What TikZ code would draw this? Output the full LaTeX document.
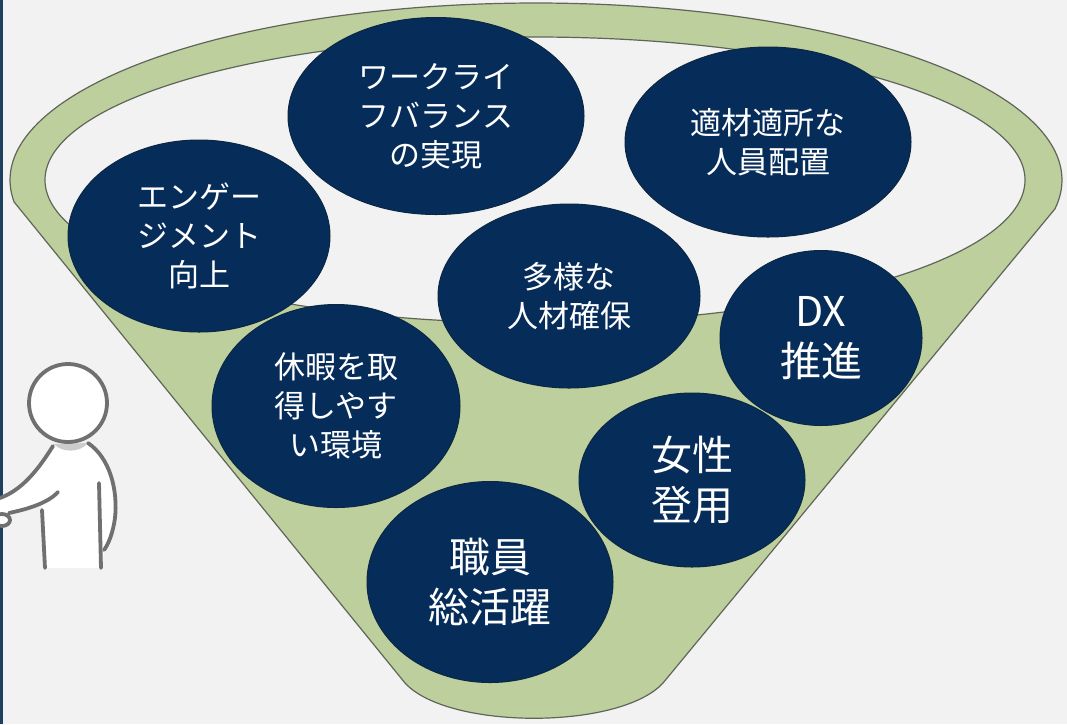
\documentclass[tikz,border=0pt]{standalone}
\usepackage{fontspec}
\newfontfamily\jpfont{Noto Sans CJK JP}
\usetikzlibrary{shapes.geometric}
\definecolor{bg}{HTML}{F2F2F2}
\definecolor{funnelgreen}{HTML}{BCCF9D}
\definecolor{funnelline}{HTML}{5F6659}
\definecolor{navy}{HTML}{062C5A}
\definecolor{navyline}{HTML}{0B2742}
\definecolor{personline}{HTML}{707070}
\definecolor{edgebar}{HTML}{1D4060}
\begin{document}
\begin{tikzpicture}[x=1pt,y=-1pt,
  funnel/.style={fill=funnelgreen, draw=funnelline, line width=1.2pt},
  bubble/.style={ellipse, fill=navy, draw=navyline, line width=1pt,
    inner sep=0pt, text=white, align=center},
  small/.style={font=\jpfont\fontsize{31}{39}\selectfont},
  big/.style={font=\jpfont\fontsize{41}{50}\selectfont},
  figline/.style={draw=personline, line width=3.8pt, line cap=round}]

% canvas
\useasboundingbox (0,0) rectangle (1067,724);
\fill[bg] (0,0) rectangle (1067,724);
\fill[edgebar] (0,0) rectangle (2.5,724);

% funnel body: rim arc over the top, straight sides, rounded spout
\draw[funnel] plot[domain=172.9:369.4, samples=160]
    ({536+526*cos(\x)},{180+177*sin(\x)})
  -- (663,683) .. controls (620,730) and (448,730) .. (405,683) -- cycle;
% opening of the funnel
\draw[fill=bg, draw=funnelline, line width=1.2pt]
  (535,180) ellipse [x radius=490pt, y radius=143pt];

% bubbles
\node[bubble, small, minimum width=262pt, minimum height=192pt] (engage) at (199,236) {エンゲー\\ジメント\\向上};
\node[bubble, small, minimum width=296pt, minimum height=197pt] (wlb) at (436,116) {ワークライ\\フバランス\\の実現};
\node[bubble, small, minimum width=286pt, minimum height=190pt] (place) at (768,142) {適材適所な\\人員配置};
\node[bubble, small, minimum width=262pt, minimum height=184pt] (diverse) at (569,296) {多様な\\人材確保};
\node[bubble, big, minimum width=202pt, minimum height=175pt] (dx) at (821,338) {DX\\推進};
\node[bubble, small, minimum width=248pt, minimum height=203pt] (leave) at (336,406) {休暇を取\\得しやす\\い環境};
\node[bubble, big, minimum width=226pt, minimum height=174pt] (women) at (692,480) {女性\\登用};
\node[bubble, big, minimum width=246pt, minimum height=201pt] (staff) at (490,582) {職員\\総活躍};

% person seen from behind, pointing left
\fill[white] (0,498) .. controls (22,490) and (38,470) .. (53,446)
  -- (88,443) .. controls (110,458) and (118,490) .. (115,518)
  .. controls (113,533) and (108,545) .. (104,552) -- (101,568)
  -- (45,568) -- (42,506) -- (10,513) -- (0,513) -- cycle;
\fill[gray!40] (54,444) .. controls (62,453) and (80,453) .. (88,443) -- cycle;
\draw[figline] (0,498) .. controls (22,490) and (38,470) .. (53,446);
\draw[figline] (88,443) .. controls (110,458) and (118,490) .. (115,518)
  .. controls (113,533) and (108,545) .. (104,550);
\draw[figline] (99,483) -- (101,568);
\draw[figline] (42,510) -- (45,568);
\draw[figline] (9,513) .. controls (28,509) and (48,503) .. (58,492);
\draw[figline, fill=white] (2,520) ellipse [x radius=8pt, y radius=6pt];
\draw[figline, fill=white] (68,403) circle [radius=39pt];
\end{tikzpicture}
\end{document}
